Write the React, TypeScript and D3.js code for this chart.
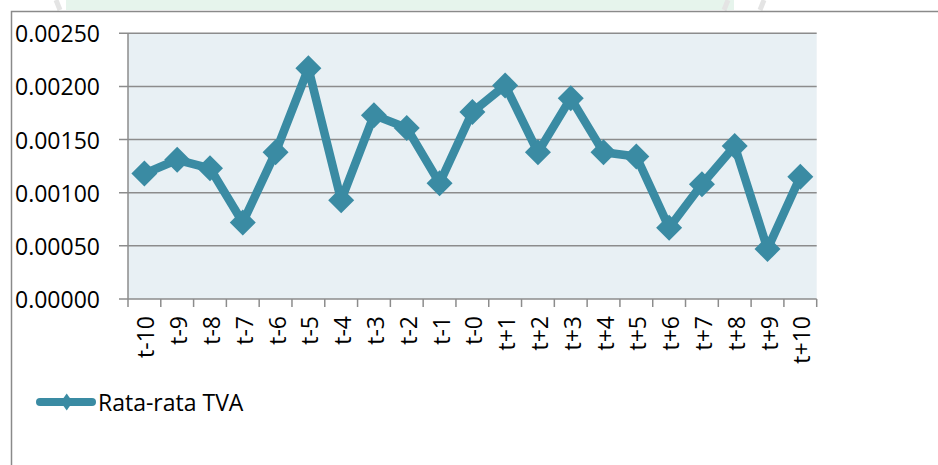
import React from "react";
import * as d3 from "d3";

const categories = ["t-10","t-9","t-8","t-7","t-6","t-5","t-4","t-3","t-2","t-1","t-0","t+1","t+2","t+3","t+4","t+5","t+6","t+7","t+8","t+9","t+10"];
const values = [0.00118,0.00131,0.00123,0.00072,0.00138,0.00217,0.00093,0.00173,0.00161,0.00109,0.00176,0.00201,0.00138,0.00189,0.00138,0.00134,0.00067,0.00108,0.00144,0.00047,0.00115];
const yTicks = [0, 0.0005, 0.001, 0.0015, 0.002, 0.0025];
const seriesName = "Rata-rata TVA";

const W = 938, H = 465;
const left = 128, right = 816.7, top = 33.3, bottom = 299;
const color = "#3a8ba3";
const font = "'Open Sans', sans-serif";

export default function App() {
  const x = d3.scaleBand<string>().domain(categories).range([left, right]);
  const y = d3.scaleLinear().domain([0, 0.0025]).range([bottom, top]);
  const line = d3.line<number>()
    .x((_, i) => (x(categories[i]) as number) + x.bandwidth() / 2)
    .y((d) => y(d));
  const diamond = (cx: number, cy: number, r: number, ry?: number) => {
    const h = ry ?? r;
    return `M${cx},${cy - h}L${cx + r},${cy}L${cx},${cy + h}L${cx - r},${cy}Z`;
  };
  const boundaries = d3.range(categories.length + 1).map((i) => left + i * x.step());
  return (
    <svg width={W} height={H} style={{ position: "absolute", left: 0, top: 0, background: "#fff" }}>
      <rect x={66} y={0} width={668} height={10} fill="#e6f4ec" />
      <line x1={56} x2={60} y1={0} y2={10} stroke="#e4e4e4" strokeWidth={5} />
      <line x1={728} x2={724} y1={0} y2={10} stroke="#e4e4e4" strokeWidth={5} />
      <line x1={764} x2={760} y1={0} y2={10} stroke="#e4e4e4" strokeWidth={5} />
      <rect x={11.5} y={11.5} width={W} height={H} fill="#fff" stroke="#8a8a8a" strokeWidth={1.5} />
      <rect x={left} y={top} width={right - left} height={bottom - top} fill="#e8f0f4" />
      {yTicks.map((t) => (
        <g key={t}>
          <line x1={left - 9} x2={right} y1={y(t)} y2={y(t)} stroke="#8c8c8c" strokeWidth={1.5} />
          <text x={15} y={y(t)} dominantBaseline="central" fontFamily={font} fontSize={23} fill="#000">
            {d3.format(".5f")(t)}
          </text>
        </g>
      ))}
      <line x1={left} x2={left} y1={top} y2={bottom} stroke="#8c8c8c" strokeWidth={1.5} />
      {boundaries.map((bx, i) => (
        <line key={i} x1={bx} x2={bx} y1={bottom} y2={bottom + 8} stroke="#8c8c8c" strokeWidth={1.5} />
      ))}
      {categories.map((c) => {
        const cx = (x(c) as number) + x.bandwidth() / 2;
        return (
          <text key={c} transform={`translate(${cx + 1},${316}) rotate(-90)`} textAnchor="end"
            dominantBaseline="central" fontFamily={font} fontSize={23} fill="#000">{c}</text>
        );
      })}
      <path d={line(values) as string} fill="none" stroke={color} strokeWidth={8.5} strokeLinejoin="round" />
      {values.map((v, i) => {
        const cx = (x(categories[i]) as number) + x.bandwidth() / 2;
        return <path key={i} d={diamond(cx, y(v), 13)} fill={color} />;
      })}
      <line x1={40} x2={92} y1={402} y2={402} stroke={color} strokeWidth={8} strokeLinecap="round" />
      <path d={diamond(66.7, 402, 6, 8.5)} fill={color} />
      <text x={98} y={402} dominantBaseline="central" fontFamily={font} fontSize={23} fill="#000">{seriesName}</text>
    </svg>
  );
}
